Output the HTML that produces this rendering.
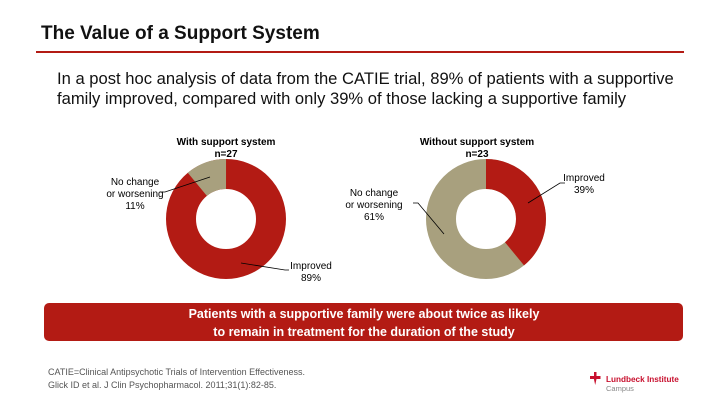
<!DOCTYPE html>
<html><head><meta charset="utf-8"><style>
body{margin:0;width:720px;height:405px;background:#fff;font-family:"Liberation Sans",Arial,sans-serif;position:relative;overflow:hidden}
.a{position:absolute;white-space:nowrap}
</style></head><body>
<div class="a" style="left:41px;top:23px;font-size:19px;font-weight:bold;color:#111">The Value of a Support System</div>
<div class="a" style="left:36px;top:51px;width:648px;height:2px;background:#B31B14"></div>
<div class="a" style="left:57px;top:69px;font-size:16.6px;line-height:20px;color:#111">In a post hoc analysis of data from the CATIE trial, 89% of patients with a supportive<br>family improved, compared with only 39% of those lacking a supportive family</div>
<svg class="a" style="left:0;top:0" width="720" height="405">
<g font-family="Liberation Sans,Arial,sans-serif" font-size="10" text-anchor="middle">
<text x="226" y="145" font-weight="bold">With support system</text>
<text x="226" y="157" font-weight="bold">n=27</text>
<circle cx="226" cy="219" r="45" fill="none" stroke="#B31B14" stroke-width="30"/>
<circle cx="226" cy="219" r="45" fill="none" stroke="#A8A07E" stroke-width="30" stroke-dasharray="31.1 300" transform="rotate(-129.6 226 219)"/>
<text x="135" y="185">No change</text><text x="135" y="197">or worsening</text><text x="135" y="209">11%</text>
<polyline points="160,192 165,192 210,177" fill="none" stroke="#000" stroke-width="0.8"/>
<polyline points="241,263 285,270 289,270" fill="none" stroke="#000" stroke-width="0.8"/>
<text x="311" y="269">Improved</text><text x="311" y="281">89%</text>

<text x="477" y="145" font-weight="bold">Without support system</text>
<text x="477" y="157" font-weight="bold">n=23</text>
<circle cx="486" cy="219" r="45" fill="none" stroke="#A8A07E" stroke-width="30"/>
<circle cx="486" cy="219" r="45" fill="none" stroke="#B31B14" stroke-width="30" stroke-dasharray="110.3 300" transform="rotate(-90 486 219)"/>
<text x="584" y="181">Improved</text><text x="584" y="193">39%</text>
<polyline points="528,203 560,183 565,183" fill="none" stroke="#000" stroke-width="0.8"/>
<text x="374" y="196">No change</text><text x="374" y="208">or worsening</text><text x="374" y="220">61%</text>
<polyline points="413,203 418,203 444,234" fill="none" stroke="#000" stroke-width="0.8"/>
</g>
<rect x="44" y="303" width="639" height="38" rx="5" fill="#B31B14"/>
<g font-family="Liberation Sans,Arial,sans-serif" font-size="12.5" font-weight="bold" fill="#fff" text-anchor="middle">
<text x="364" y="318">Patients with a supportive family were about twice as likely</text>
<text x="364" y="336">to remain in treatment for the duration of the study</text>
</g>
<g font-family="Liberation Sans,Arial,sans-serif" font-size="9" fill="#555">
<text x="48" y="375">CATIE=Clinical Antipsychotic Trials of Intervention Effectiveness.</text>
<text x="48" y="388">Glick ID et al. J Clin Psychopharmacol. 2011;31(1):82-85.</text>
</g>
<path d="M590,376 h4 v-4 h2.5 v4 h4 v3 h-4 l-1.3,6 l-1.3,-6 h-3.9z" fill="#C8102E"/>
<text x="606" y="382" font-family="Liberation Sans,Arial,sans-serif" font-size="8.2" font-weight="bold" fill="#C8102E">Lundbeck Institute</text>
<text x="606" y="391" font-family="Liberation Sans,Arial,sans-serif" font-size="7.5" fill="#888">Campus</text>
</svg>
</body></html>
